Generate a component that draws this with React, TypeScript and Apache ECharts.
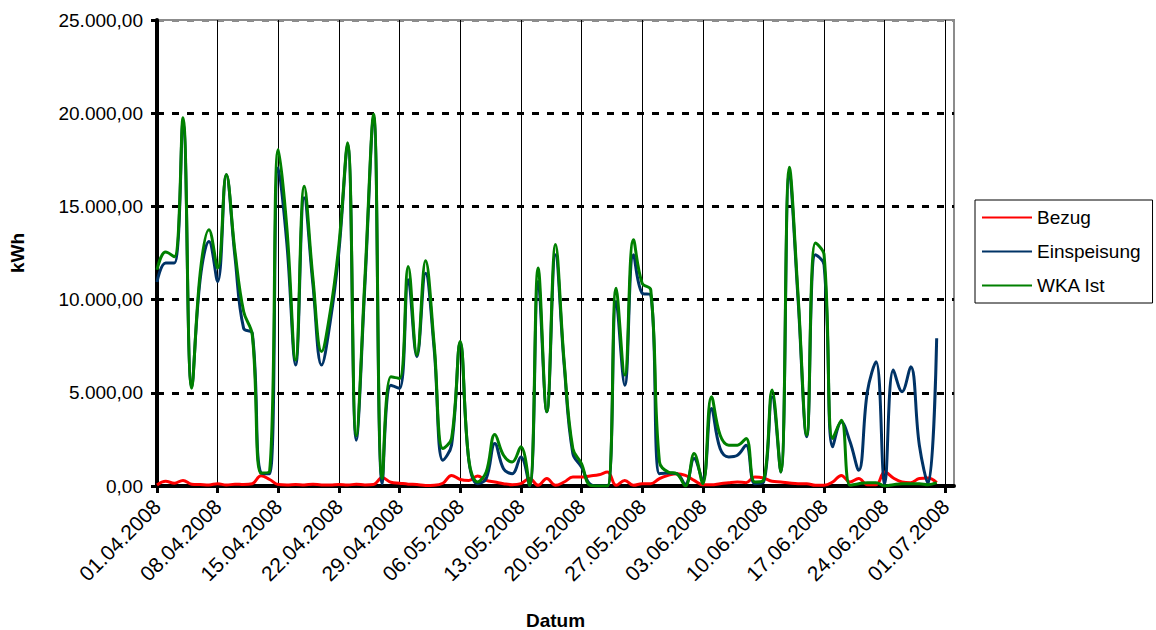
import React, { useEffect, useRef } from "react";
import * as echarts from "echarts";

// Categories: daily dates from 01.04.2008 to 02.07.2008
const startDate = { y: 2008, m: 4, d: 1 };
const dayCount = 93;
const pad = (n: number) => (n < 10 ? "0" + n : String(n));
const dates: string[] = [];
for (let i = 0; i < dayCount; i++) {
  const dt = new Date(Date.UTC(startDate.y, startDate.m - 1, startDate.d + i));
  dates.push(`${pad(dt.getUTCDate())}.${pad(dt.getUTCMonth() + 1)}.${dt.getUTCFullYear()}`);
}

const bezug = [
  50, 250, 150, 300, 100, 80, 60, 120, 50, 100, 80, 120, 550, 350, 80, 60,
  80, 60, 100, 60, 60, 80, 50, 100, 60, 80, 450, 200, 150, 100, 80, 30,
  40, 150, 570, 350, 300, 540, 300, 215, 125, 70, 125, 400, 36, 400, 36, 215,
  480, 480, 540, 600, 750, 36, 300, 36, 125, 125, 400, 570, 660, 570, 300, 70,
  70, 125, 180, 215, 180, 480, 430, 250, 215, 160, 125, 125, 36, 36, 215, 570,
  215, 400, 70, 70, 750, 430, 215, 180, 400, 430, 180,
];

const einspeisung = [
  10940, 11960, 11960, 19500, 5300, 11150, 13120, 10970, 16700, 12300, 8460,
  8200, 700, 660, 17070, 12950, 6490, 15460, 10800, 6490, 8820, 12600, 18330,
  2460, 10800, 19800, 130, 5410, 5240, 11060, 6940, 11420, 7300, 1380, 2190,
  7700, 1350, 125, 400, 2280, 930, 660, 1560, 0, 10970, 3980, 12410, 6500,
  1740, 1020, 100, 0, 0, 9900, 5410, 12410, 10350, 10250, 660, 700, 660, 100,
  1470, 300, 4160, 2010, 1560, 1650, 2190, 125, 200, 4790, 750, 16800, 10000,
  2640, 12410, 11870, 2100, 3440, 2370, 840, 5060, 6670, 125, 6220, 5060, 6400,
  2190, 125, 7930,
];

const wkaIst = [
  11600, 12550, 12300, 19760, 5240, 11500, 13750, 11690, 16710, 12600, 9360,
  8100, 700, 800, 18050, 13800, 6760, 16080, 11150, 7210, 9360, 12950, 18410,
  2700, 11150, 19940, 400, 5860, 5770, 11780, 7030, 12080, 7570, 2010, 2550,
  7750, 1380, 215, 750, 2760, 1650, 1290, 2100, 40, 11690, 3980, 12950, 6670,
  2010, 1200, 36, 0, 0, 10610, 5950, 13210, 10880, 10520, 1290, 750, 660, 0,
  1740, 125, 4790, 2730, 2190, 2190, 2550, 215, 300, 5150, 750, 17100, 10260,
  2730, 13040, 12410, 2550, 3530, 36, 125, 180, 180, 0, 70, 125, 125, 125, 70,
  180,
];

const yMin = 0;
const yMax = 25000;
const yStep = 5000;

const fmtNum = (v: number) => {
  const s = Math.round(v).toString();
  const withDots = s.replace(/\B(?=(\d{3})+(?!\d))/g, ".");
  return withDots + ",00";
};

const FONT = "'Liberation Sans', Arial, sans-serif";
const FS = 19;

export default function App() {
  const ref = useRef<HTMLDivElement>(null);
  useEffect(() => {
    if (!ref.current) return;
    const chart = echarts.init(ref.current, undefined, { renderer: "svg" });
    chart.setOption({
      animation: false,
      textStyle: { fontFamily: FONT, color: "#000" },
      grid: {
        left: 157,
        right: 202,
        top: 20,
        bottom: 144,
        containLabel: false,
        outerBoundsMode: "none",
        show: true,
        borderColor: "#8c8c8c",
        borderWidth: 2,
        backgroundColor: "#fff",
      },
      legend: {
        orient: "vertical",
        left: 975,
        top: 200,
        padding: [7, 12, 7, 7],
        itemWidth: 50,
        itemHeight: 2,
        itemGap: 13,
        itemStyle: { borderWidth: 0 },
        icon: "rect",
        borderColor: "#000",
        borderWidth: 1,
        textStyle: { fontFamily: FONT, fontSize: FS, color: "#000", lineHeight: 21 },
        data: ["Bezug", "Einspeisung", "WKA Ist"],
      },
      xAxis: {
        type: "category",
        data: dates,
        boundaryGap: false,
        name: "Datum",
        nameLocation: "middle",
        nameGap: 125,
        nameTextStyle: { fontFamily: FONT, fontWeight: "bold", fontSize: FS, color: "#000" },
        axisLine: { lineStyle: { color: "#000", width: 4 } },
        axisTick: { show: true, interval: 6, length: 7, lineStyle: { color: "#000", width: 3 } },
        axisLabel: {
          interval: 6,
          rotate: 45,
          margin: 17,
          fontFamily: FONT,
          fontSize: 21,
          color: "#000",
        },
        splitLine: { show: true, interval: 6, lineStyle: { color: "#000", width: 1 } },
      },
      yAxis: {
        type: "value",
        min: yMin,
        max: yMax,
        interval: yStep,
        name: "kWh",
        nameLocation: "middle",
        nameGap: 130,
        nameRotate: 90,
        nameTextStyle: { fontFamily: FONT, fontWeight: "bold", fontSize: FS, color: "#000" },
        axisLine: { show: true, lineStyle: { color: "#000", width: 4 } },
        axisTick: { show: true, length: 6, lineStyle: { color: "#000", width: 3 } },
        axisLabel: {
          formatter: (v: number) => fmtNum(v),
          margin: 14,
          fontFamily: FONT,
          fontSize: FS,
          color: "#000",
        },
        splitLine: {
          show: true,
          lineStyle: {
            color: ["#000", "#000", "#000", "#000", "#000", "#8c8c8c"],
            width: 3,
            type: [7, 8],
          },
        },
      },
      series: [
        {
          name: "Bezug",
          type: "line",
          data: bezug,
          smooth: 0.4,
          showSymbol: false,
          symbol: "none",
          color: "#FF0000",
          lineStyle: { color: "#FF0000", width: 3 },
        },
        {
          name: "Einspeisung",
          type: "line",
          data: einspeisung,
          smooth: 0.4,
          showSymbol: false,
          symbol: "none",
          color: "#003366",
          lineStyle: { color: "#003366", width: 3 },
        },
        {
          name: "WKA Ist",
          type: "line",
          data: wkaIst,
          smooth: 0.4,
          showSymbol: false,
          symbol: "none",
          color: "#008000",
          lineStyle: { color: "#008000", width: 3 },
        },
      ],
    });
    return () => chart.dispose();
  }, []);
  return (
    <div
      ref={ref}
      style={{ position: "fixed", left: 0, top: 0, width: 1156, height: 630, background: "#fff" }}
    />
  );
}
